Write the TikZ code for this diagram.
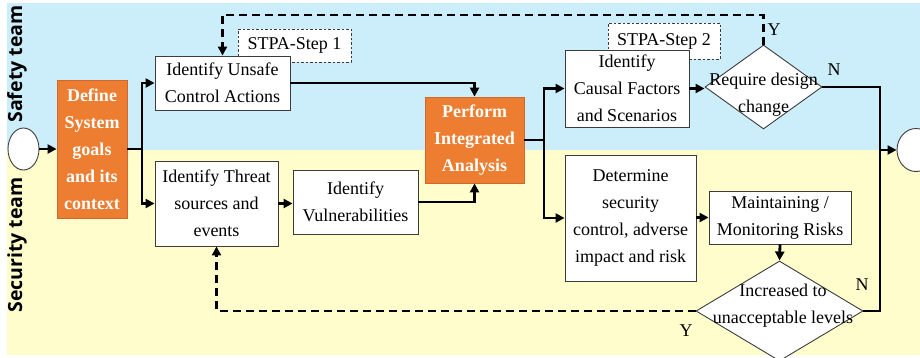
\documentclass[tikz,border=0pt]{standalone}
\usepackage{fontspec}
\setmainfont{Liberation Serif}
\newfontfamily\teamfont{Open Sans}
\usetikzlibrary{shapes.geometric,arrows.meta}
\definecolor{skyc}{RGB}{204,238,250}
\definecolor{creamc}{RGB}{255,253,204}
\definecolor{orangec}{RGB}{237,125,49}
\definecolor{orangeb}{RGB}{205,105,45}
\definecolor{edgec}{RGB}{60,60,60}
\begin{document}
\begin{tikzpicture}[x=1pt,y=-1pt,
  txt/.style={font=\fontsize{18}{27}\selectfont, align=center},
  wbox/.style={txt, draw=edgec, line width=0.9pt, fill=white, inner sep=0pt},
  obox/.style={align=center, fill=orangec, draw=orangeb, line width=0.8pt, text=white, font=\fontsize{18}{27}\selectfont\bfseries, inner sep=0pt},
  lbox/.style={txt, draw=edgec, line width=0.6pt, dash pattern=on 2.5pt off 2pt, fill=white, inner sep=0pt},
  dmd/.style={shape=diamond, draw=edgec, line width=0.9pt, fill=white, inner sep=0pt},
  endp/.style={shape=ellipse, draw=edgec, line width=0.9pt, fill=white, inner sep=0pt},
  flow/.style={line width=2.8pt, line cap=butt},
  arr/.style={flow, -{Triangle[length=9pt,width=9pt]}},
  darr/.style={flow, dash pattern=on 8pt off 5pt, -{Triangle[length=9pt,width=9pt]}},
  team/.style={rotate=90, font=\teamfont\bfseries\fontsize{19.5}{20}\selectfont},
  yn/.style={font=\fontsize{18}{20}\selectfont}
]
\useasboundingbox (0,0) rectangle (920,357);
\fill[skyc] (7,3) rectangle (920,150);
\fill[creamc] (7,150) rectangle (920,355);

\node[team] (safety) at (17,64) {Safety team};
\node[team] (security) at (17,245) {Security team};

\node[endp, minimum width=31pt, minimum height=42pt] (start) at (23.5,149) {};
\node[endp, minimum width=38pt, minimum height=43pt] (stop) at (916,150) {};

\node[obox, minimum width=70pt, minimum height=138pt] (define) at (92,149) {Define\\System\\goals\\and its\\context};

\node[lbox, minimum width=113pt, minimum height=33pt] (step1) at (294.5,45.5) {STPA-Step 1};
\node[wbox, minimum width=135pt, minimum height=54pt] (uca) at (222.5,83) {Identify Unsafe\\Control Actions};
\node[wbox, minimum width=123pt, minimum height=85pt] (threat) at (216.5,203.5) {Identify Threat\\sources and\\events};
\node[wbox, minimum width=125pt, minimum height=64pt] (vuln) at (355.5,202) {Identify\\Vulnerabilities};

\node[obox, minimum width=99pt, minimum height=86pt] (perform) at (474.5,140) {Perform\\Integrated\\Analysis};

\node[lbox, minimum width=112pt, minimum height=36pt] (step2) at (664,41) {STPA-Step 2};
\node[wbox, minimum width=124pt, minimum height=77pt] (causal) at (627,88.5) {Identify\\Causal Factors\\and Scenarios};
\node[wbox, minimum width=131pt, minimum height=126pt] (determine) at (630.5,218) {Determine\\security\\control, adverse\\impact and risk};
\node[wbox, minimum width=142pt, minimum height=53pt] (maintain) at (780,217.5) {Maintaining /\\Monitoring Risks};

\node[dmd, minimum width=117pt, minimum height=84pt] (d1) at (763.5,87) {};
\node[txt] (d1t) at (763.5,95) {Require design\\change};
\node[dmd, minimum width=167pt, minimum height=100pt] (d2) at (779.5,311) {};
\node[txt] (d2t) at (783,306) {Increased to\\unacceptable levels};

\node[yn] (y1) at (774,30) {Y};
\node[yn] (n1) at (834,70) {N};
\node[yn] (n2) at (862,285) {N};
\node[yn] (y2) at (686,331) {Y};

\coordinate (j1) at (142,149);
\coordinate (j2) at (544,140);
\coordinate (j3) at (880,150);

\draw[arr] (start) -- (define);
\draw[flow] (define.east) -- (j1);
\draw[arr] (j1 |- define.east) |- (uca.west);
\draw[arr] (j1) |- (threat.west);
\draw[arr] (uca.east) -| (perform.north);
\draw[arr] (threat.east) -- (threat.east -| vuln.west);
\draw[arr] (vuln.east) -| (perform.south);
\draw[flow] (perform.east) -- (j2);
\draw[arr] (j2) |- (causal.west);
\draw[arr] (j2) |- (determine.west);
\draw[arr] (causal.east) -- (causal.east -| d1.west);
\draw[darr] (d1.north) -- (d1.north |- 0,15) -| (uca.north);
\draw[flow] (d1.east) -| (j3);
\draw[flow] (d2.east) -| (j3);
\draw[arr] (j3) -- (stop.west);
\draw[arr] (determine.east |- maintain.west) -- (maintain.west);
\draw[arr] (maintain.south) -- (d2.north);
\draw[darr] (d2.west) -| (threat.south);
\end{tikzpicture}
\end{document}
